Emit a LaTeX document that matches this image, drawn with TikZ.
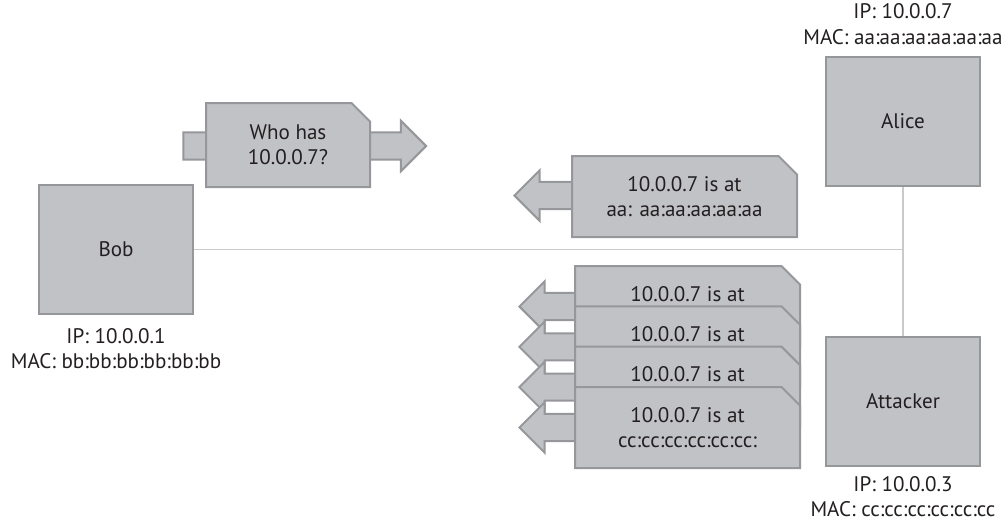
\documentclass[tikz,border=0pt]{standalone}
\usepackage{fontspec}
\setmainfont{PT Sans}
\usepackage{tikz}
\usetikzlibrary{positioning,shapes.misc,shapes.arrows}
\definecolor{cfill}{RGB}{193,194,198}
\definecolor{cedge}{RGB}{150,151,155}
\definecolor{cwire}{RGB}{202,202,204}
\definecolor{ctext}{RGB}{35,31,32}

\begin{document}
\begin{tikzpicture}[
    x=0.75pt, y=-0.75pt,
    font=\fontsize{15.8}{19}\selectfont,
    text=ctext,
    host/.style={
        rectangle,
        draw=cedge,
        fill=cfill,
        line width=1.5pt,
        minimum width=115.5pt,
        minimum height=96.75pt,
        inner sep=0pt
    },
    packet/.style={
        chamfered rectangle,
        chamfered rectangle corners=north east,
        chamfered rectangle xsep=10.5pt,
        draw=cedge,
        fill=cfill,
        line width=1.5pt,
        minimum width=168.75pt,
        minimum height=60.75pt,
        inner sep=0pt,
        align=center
    },
    pktarrow/.style={
        single arrow,
        draw=cedge,
        fill=cfill,
        line width=1.5pt,
        single arrow head extend=8.8pt,
        inner xsep=0pt,
        inner ysep=9.4pt,
        minimum height=#1
    },
    pktarrow/.default=100pt,
    addr/.style={
        align=center,
        inner sep=0pt
    },
    wire/.style={
        draw=cwire,
        line width=1.1pt
    }
]
\useasboundingbox (0,0) rectangle (1008,522);

% Hosts
\node[host] (Bob) at (116,249.5) {Bob};
\node[host] (Alice) at (903,121) {Alice};
\node[host] (Attacker) at (903,401.5) {Attacker};

\node[addr, below=10pt of Bob] (bobaddr) {IP: 10.0.0.1\\MAC: bb:bb:bb:bb:bb:bb};
\node[addr, above=8pt of Alice] (aliceaddr) {IP: 10.0.0.7\\MAC: aa:aa:aa:aa:aa:aa};
\node[addr, below=7pt of Attacker] (attackeraddr) {IP: 10.0.0.3\\MAC: cc:cc:cc:cc:cc:cc};

% Shared segment
\draw[wire] (Alice) -- (Attacker);
\draw[wire] (Bob) -- (Bob -| Alice);

% ARP request from Bob
\node[pktarrow=182pt] (askarrow) at (298,146) {};
\node[packet, minimum width=123pt, minimum height=63pt] (ask) at (288,145) {Who has\\10.0.0.7?};

% Genuine reply from Alice
\node[pktarrow, shape border rotate=180, anchor=tip] (replyarrow) at (513,195.5) {};
\node[packet] (reply) at (684.5,196.5) {10.0.0.7 is at\\aa: aa:aa:aa:aa:aa};

% Flood of spoofed replies
\foreach \i in {0,...,3}
    \node[pktarrow=60pt, shape border rotate=180, anchor=tip] (spoofarrow\i) at (518,{306.5+40.33*\i}) {};
\foreach \i in {0,1,2}
    \node[packet] (spoof\i) at (687.5,{306.5+40.33*\i}) {10.0.0.7 is at\\\phantom{0}};
\node[packet] (spoof3) at (687.5,427.5) {10.0.0.7 is at\\cc:cc:cc:cc:cc:cc:};

\end{tikzpicture}
\end{document}
